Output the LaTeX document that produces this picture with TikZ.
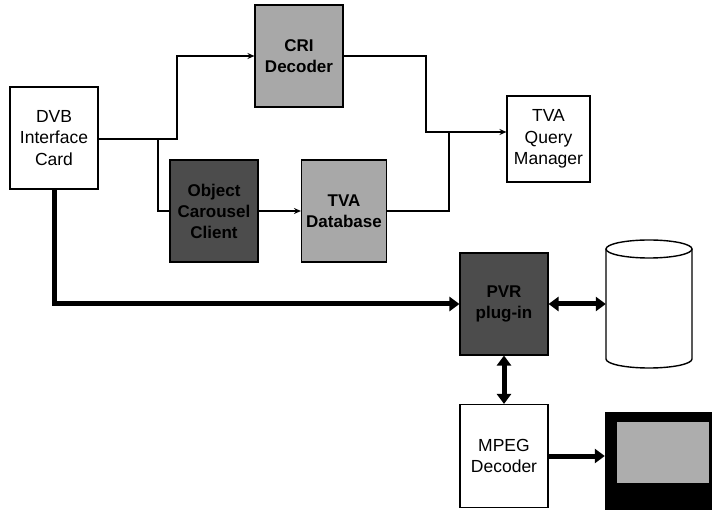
\documentclass[tikz,border=0pt]{standalone}
\usepackage{fontspec}
\setmainfont{Liberation Sans}
\usetikzlibrary{arrows.meta,positioning}
\definecolor{lightshade}{gray}{0.66}
\definecolor{darkshade}{gray}{0.30}
\definecolor{screenshade}{gray}{0.68}

\begin{document}
\begin{tikzpicture}[x=1pt,y=-1pt,>=Stealth,
  unit/.style={draw=black,line width=1.1pt,fill=white,align=center,
    minimum width=88pt,minimum height=102pt,inner sep=2pt,
    font=\fontsize{17.5}{21.5}\selectfont},
  shaded/.style={unit,fill=lightshade,font=\fontsize{17}{21}\selectfont\bfseries},
  darkunit/.style={shaded,fill=darkshade},
  link/.style={line width=1.4pt},
  arrow/.style={link,-{Stealth[length=7pt,width=6pt]}},
  bus/.style={line width=5pt,-{Triangle[length=10pt,width=14pt]}},
  duplex/.style={line width=5pt,{Triangle[length=10pt,width=14pt]}-{Triangle[length=10pt,width=14pt]}}]
\useasboundingbox (0,0) rectangle (712,510);
% receiver and metadata path
\node[unit] (dvb) at (54,138) {DVB\\Interface\\Card};
\node[shaded] (cri) at (299,56) {CRI\\Decoder};
\node[darkunit] (occ) at (214,211) {Object\\Carousel\\Client};
\node[shaded,minimum width=85pt] (tvadb) at (344,211) {TVA\\Database};
\node[unit,minimum width=83pt,minimum height=86pt] (tvaqm) at (548.5,139) {TVA\\Query\\Manager};
% recording and playback path
\node[darkunit] (pvr) at (504,304) {PVR\\plug-in};
\node[unit,minimum height=103pt] (mpeg) at (504,456) {MPEG\\Decoder};
\node[minimum width=86pt,minimum height=128pt,inner sep=0pt] (disk) at (649,304) {};
\draw[link] (649,249) ellipse[x radius=43pt,y radius=9pt];
\draw[link] (606,249) -- (606,359) arc[start angle=180,end angle=360,x radius=43pt,y radius=9pt] -- (692,249);
\node[fill=black,minimum width=108pt,minimum height=98pt,inner sep=0pt] (screen) at (659,461) {};
\node[fill=screenshade,minimum width=92pt,minimum height=61pt,inner sep=0pt] (picture) at (663,452.5) {};
% junctions
\coordinate (split) at (177,139);
\coordinate (tap) at (158,139);
\coordinate (merge) at (426,132);
\coordinate (dbjoin) at (449,132);
% connectors
\draw[arrow] (dvb.east |- split) -- (split) |- (cri.west);
\draw[link] (tap) |- (occ.west);
\draw[arrow] (occ.east) -- (tvadb.west);
\draw[arrow] (cri.east) -| (merge) -- (merge -| tvaqm.west);
\draw[link] (tvadb.east) -| (dbjoin);
\draw[bus] (dvb.south) |- (pvr.west);
\draw[duplex] (pvr.east) -- (disk.west);
\draw[duplex] (pvr.south) -- (mpeg.north);
\draw[bus] (mpeg.east) -- (mpeg.east -| screen.west);
\end{tikzpicture}
\end{document}
